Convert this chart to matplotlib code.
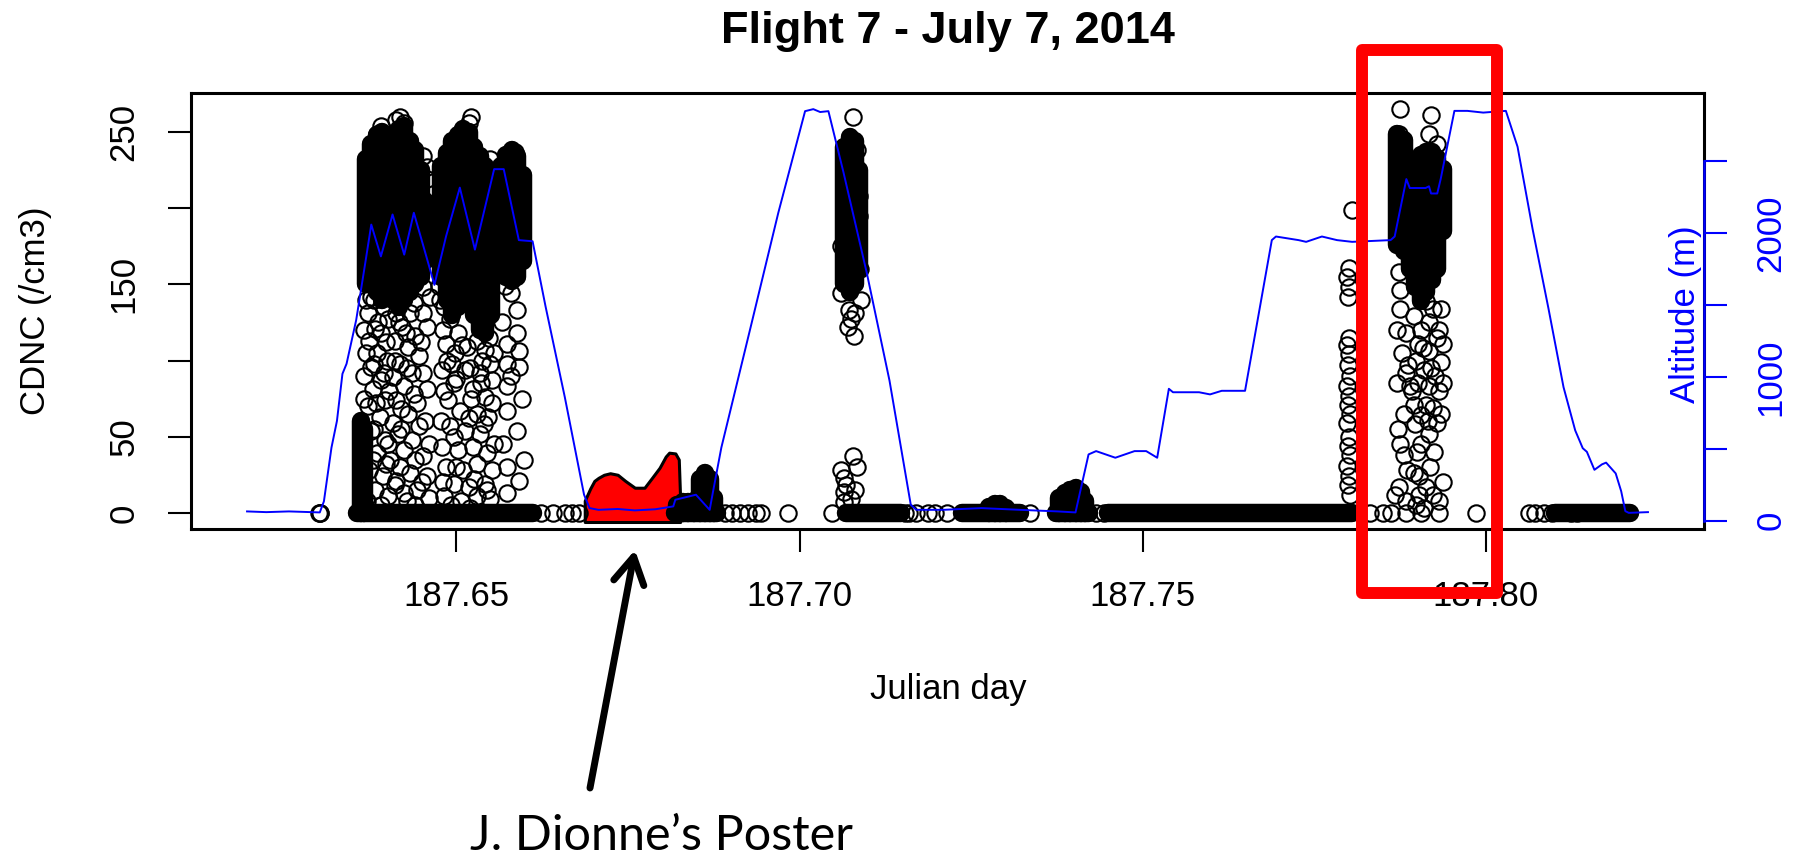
import numpy as np
import matplotlib.pyplot as plt
from matplotlib.patches import Rectangle, FancyArrowPatch

plt.rcParams['font.family'] = ['Liberation Sans', 'DejaVu Sans']

# flight track: Julian day vs altitude (m)
alt_day = [187.6195, 187.6223, 187.6256, 187.6301, 187.6307, 187.6318, 187.6326, 187.6334,
           187.6340, 187.6354, 187.6368, 187.6376, 187.6390, 187.6407, 187.6424, 187.6438,
           187.6452, 187.6468, 187.6485, 187.6505, 187.6527, 187.6541, 187.6555, 187.6569,
           187.6591, 187.6611, 187.6630, 187.6658, 187.6686, 187.6694, 187.6707, 187.6735,
           187.6760, 187.6790, 187.6816, 187.6819, 187.6849, 187.6869, 187.6874, 187.6886,
           187.6930, 187.6969, 187.7008, 187.7020, 187.7030, 187.7042, 187.7064, 187.7098,
           187.7131, 187.7162, 187.7170, 187.7209, 187.7265, 187.7321, 187.7376, 187.7402,
           187.7421, 187.7432, 187.7460, 187.7488, 187.7505, 187.7521, 187.7538, 187.7544,
           187.7582, 187.7598, 187.7615, 187.7649, 187.7688, 187.7694, 187.7727, 187.7738,
           187.7761, 187.7783, 187.7805, 187.7861, 187.7867, 187.7884, 187.7889, 187.7912,
           187.7917, 187.7920, 187.7929, 187.7934, 187.7954, 187.7973, 187.7996, 187.8029,
           187.8046, 187.8068, 187.8091, 187.8113, 187.8130, 187.8141, 187.8147, 187.8158,
           187.8169, 187.8175, 187.8189, 187.8197, 187.8203, 187.8208, 187.8236]
alt_m = [65, 60, 65, 58, 135, 508, 694, 1021,
         1091, 1394, 1814, 2058, 1837, 2128, 1849, 2140,
         1907, 1639, 1977, 2315, 1884, 2163, 2443, 2443,
         1950, 1942, 1487, 858, 181, 88, 76, 82,
         72, 80, 100, 146, 181, 76, 205, 508,
         1371, 2140, 2846, 2860, 2840, 2846, 2420, 1720,
         974, 111, 76, 76, 88, 76, 65, 58,
         461, 484, 438, 484, 484, 438, 917, 893,
         893, 878, 903, 903, 1950, 1975, 1950, 1938,
         1975, 1950, 1938, 1950, 1975, 2374, 2312, 2312,
         2324, 2274, 2274, 2374, 2848, 2848, 2836, 2848,
         2599, 2025, 1476, 928, 628, 504, 479, 354,
         392, 404, 329, 205, 67, 55, 60]

# CDNC runs sitting at zero (start day, end day)
zero_start = [187.6355, 187.6818, 187.7068, 187.7237, 187.7374, 187.7449, 187.8100]
zero_end = [187.6612, 187.6880, 187.7148, 187.7321, 187.7421, 187.7805, 187.8210]

# densely sampled CDNC stretches: day, lowest and highest value
core_day = [187.6361, 187.6366, 187.6368, 187.6376, 187.6384, 187.6392, 187.6400, 187.6408,
            187.6416, 187.6424, 187.6432, 187.6440, 187.6448, 187.6455,
            187.6478, 187.6486, 187.6494, 187.6502, 187.6510, 187.6518, 187.6526, 187.6534,
            187.6542, 187.6550,
            187.6565, 187.6573, 187.6581, 187.6589, 187.6597,
            187.7065, 187.7073, 187.7081, 187.7087,
            187.6822, 187.6830, 187.6838, 187.6846, 187.6855, 187.6862, 187.6870, 187.6876,
            187.7276, 187.7284, 187.7292, 187.7300,
            187.7378, 187.7386, 187.7394, 187.7402, 187.7410, 187.7416,
            187.7870, 187.7880, 187.7889, 187.7897, 187.7905, 187.7913, 187.7921, 187.7929,
            187.7937]
core_lo = [0, 0, 150, 150, 145, 140, 145, 140,
           135, 140, 145, 150, 155, 165,
           155, 140, 130, 135, 140, 145, 130, 120,
           118, 130,
           160, 155, 152, 155, 165,
           150, 145, 150, 160,
           0, 0, 0, 0, 0, 0, 0, 0,
           0, 0, 0, 0,
           0, 0, 0, 0, 0, 0,
           176, 172, 160, 148, 139, 145, 153, 160,
           185]
core_hi = [60, 55, 232, 242, 248, 250, 246, 248,
           252, 254, 244, 238, 225, 205,
           228, 236, 244, 248, 252, 250, 240, 234,
           228, 215,
           228, 235, 238, 234, 222,
           240, 247, 244, 225,
           5, 7, 7, 8, 22, 26, 22, 10,
           4, 6, 6, 3,
           10, 13, 15, 16, 14, 8,
           249, 245, 225, 228, 235, 237, 237, 233,
           226]

# individual CDNC samples
pt_day = [
    187.6300, 187.6301, 187.6302,
    # first cloud pass
    187.6373, 187.6376, 187.6371, 187.6382, 187.6373, 187.6385, 187.6376, 187.6390,
    187.6379, 187.6396, 187.6371, 187.6388, 187.6407, 187.6376, 187.6396, 187.6415,
    187.6385, 187.6404, 187.6424, 187.6373, 187.6393, 187.6412, 187.6432, 187.6382,
    187.6401, 187.6424, 187.6443, 187.6457, 187.6451, 187.6435, 187.6446, 187.6429,
    187.6412, 187.6443, 187.6457, 187.6424, 187.6407, 187.6435, 187.6418, 187.6399,
    187.6446, 187.6429, 187.6410, 187.6390, 187.6440, 187.6457, 187.6421, 187.6401,
    187.6451, 187.6432, 187.6412, 187.6462, 187.6457, 187.6451, 187.6457, 187.6418,
    187.6424, 187.6390, 187.6385, 187.6412,
    187.6366, 187.6366, 187.6368, 187.6366, 187.6369, 187.6380, 187.6394, 187.6403,
    187.6420, 187.6438, 187.6452, 187.6386, 187.6398, 187.6416, 187.6426, 187.6448,
    187.6380, 187.6394, 187.6410, 187.6428, 187.6452, 187.6383, 187.6402, 187.6420,
    187.6438, 187.6455, 187.6380, 187.6400, 187.6420, 187.6440, 187.6460, 187.6378,
    187.6398, 187.6418, 187.6450, 187.6428, 187.6370, 187.6390, 187.6410, 187.6440,
    187.6460,
    # second cloud pass
    187.6479, 187.6474, 187.6482, 187.6490, 187.6502, 187.6485, 187.6479, 187.6493,
    187.6513, 187.6496, 187.6516, 187.6530, 187.6541, 187.6549, 187.6535, 187.6552,
    187.6524, 187.6541, 187.6488, 187.6505, 187.6530, 187.6546, 187.6490, 187.6513,
    187.6535, 187.6479, 187.6502, 187.6524, 187.6544, 187.6485, 187.6510, 187.6530,
    187.6552, 187.6496, 187.6518, 187.6541, 187.6482, 187.6507, 187.6530, 187.6549,
    187.6518, 187.6516, 187.6521, 187.6490, 187.6549,
    187.6476, 187.6480, 187.6486, 187.6498, 187.6508, 187.6520, 187.6538, 187.6548,
    187.6555, 187.6482, 187.6500, 187.6522, 187.6536, 187.6552, 187.6478, 187.6496,
    187.6518, 187.6540, 187.6555, 187.6480, 187.6500, 187.6526, 187.6545, 187.6492,
    187.6520,
    # third cloud pass
    187.6588, 187.6574, 187.6588, 187.6591, 187.6574, 187.6591, 187.6574, 187.6574,
    187.6588, 187.6574, 187.6591, 187.6574, 187.6585, 187.6580, 187.6571,
    187.6566, 187.6580, 187.6596, 187.6568, 187.6598,
    # zeros before and after the highlighted leg
    187.6624, 187.6641, 187.6658, 187.6669, 187.6678,
    187.6891, 187.6902, 187.6913, 187.6925, 187.6936, 187.6944, 187.6983, 187.7047,
    187.7153, 187.7159, 187.7170, 187.7187, 187.7198, 187.7215,
    187.7335, 187.7432, 187.7443,
    187.7831, 187.7850, 187.7861, 187.7884, 187.7906, 187.7931, 187.7985,
    187.8063, 187.8071, 187.8085, 187.8096, 187.8124, 187.8133,
    # descent through cloud near 187.708
    187.7061, 187.7064, 187.7061, 187.7072, 187.7081, 187.7075, 187.7070, 187.7080,
    187.7086, 187.7086, 187.7084, 187.7078, 187.7078, 187.7084, 187.7061, 187.7064,
    187.7067, 187.7064, 187.7081, 187.7075, 187.7064, 187.7068, 187.7088, 187.7090,
    # column near 187.780
    187.7805, 187.7800, 187.7797, 187.7801, 187.7799, 187.7801, 187.7798, 187.7801,
    187.7799, 187.7802, 187.7798, 187.7801, 187.7799, 187.7802, 187.7798, 187.7801,
    187.7799, 187.7802, 187.7798, 187.7801, 187.7799, 187.7802,
    # last cloud pass
    187.7875, 187.7920, 187.7917, 187.7929, 187.7873, 187.7878, 187.7873, 187.7875,
    187.7875, 187.7884, 187.7887, 187.7884, 187.7889, 187.7892, 187.7895, 187.7875,
    187.7881, 187.7873, 187.7867, 187.7884, 187.7912, 187.7923, 187.7917, 187.7906,
    187.7929, 187.7901, 187.7917, 187.7934, 187.7909, 187.7926, 187.7901, 187.7917,
    187.7931, 187.7912, 187.7923, 187.7906, 187.7929, 187.7917, 187.7906, 187.7895,
    187.7903, 187.7912, 187.7923, 187.7931, 187.7903, 187.7934, 187.7895, 187.7937,
    187.7870, 187.7878, 187.7870, 187.7880, 187.7872, 187.7885, 187.7898, 187.7908,
    187.7920, 187.7932, 187.7938, 187.7897, 187.7915, 187.7935, 187.7925, 187.7900,
    187.7918, 187.7938, 187.7898, 187.7910,
]
pt_cdnc = [
    0, 0, 0,
    153, 142, 131, 121, 113, 105, 96, 87,
    81, 74, 70, 63, 59, 54, 48, 52,
    39, 35, 41, 28, 24, 21, 26, 15,
    11, 13, 15, 24, 37, 48, 57, 65,
    74, 72, 81, 83, 89, 92, 98, 100,
    103, 109, 113, 118, 116, 122, 122, 127,
    131, 131, 131, 142, 227, 234, 219, 260,
    256, 254, 249, 258,
    75, 90, 105, 120, 140, 140, 135, 145,
    140, 138, 148, 125, 112, 125, 118, 112,
    98, 92, 100, 95, 92, 72, 80, 68,
    78, 60, 55, 45, 55, 35, 45, 35,
    32, 30, 20, 8, 8, 5, 18, 5,
    10,
    162, 149, 135, 127, 118, 111, 94, 98,
    94, 85, 109, 113, 107, 98, 92, 87,
    81, 76, 74, 67, 65, 63, 57, 54,
    52, 43, 41, 43, 39, 30, 28, 32,
    28, 19, 17, 19, 11, 8, 11, 9,
    256, 249, 260, 234, 232,
    140, 120, 100, 105, 110, 95, 100, 115,
    105, 80, 88, 75, 85, 72, 60, 50,
    62, 58, 45, 20, 30, 22, 15, 5,
    3,
    133, 111, 118, 106, 98, 96, 83, 67,
    54, 30, 21, 13, 237, 144, 149,
    125, 90, 75, 45, 35,
    0, 0, 0, 0, 0,
    0, 0, 0, 0, 0, 0, 0, 0,
    0, 0, 0, 0, 0, 0,
    0, 0, 0,
    0, 0, 0, 0, 0, 0, 0,
    0, 0, 0, 0, 0, 0,
    175, 162, 144, 133, 131, 127, 122, 116,
    195, 208, 238, 260, 37, 30, 28, 23,
    18, 14, 15, 9, 7, 170, 160, 140,
    199, 161, 155, 148, 142, 115, 110, 104,
    97, 90, 83, 77, 71, 65, 59, 50,
    44, 38, 31, 24, 18, 12,
    265, 261, 249, 242, 249, 240, 158, 146,
    134, 118, 97, 92, 83, 80, 71, 45,
    38, 17, 12, 8, 139, 134, 125, 120,
    115, 111, 106, 99, 94, 90, 85, 83,
    80, 71, 69, 64, 59, 52, 45, 26,
    24, 17, 12, 8, 12, 134, 129, 111,
    120, 105, 85, 65, 55, 28, 100, 108,
    95, 120, 85, 58, 60, 65, 40, 40,
    30, 20, 5, 3,
]

# highlighted leg (J. Dionne's poster)
red_day = [187.6687, 187.6695, 187.6701, 187.6707, 187.6715, 187.6724, 187.6735, 187.6746,
           187.6760, 187.6774, 187.6785, 187.6796, 187.6805, 187.6810, 187.6819, 187.6824,
           187.6826]
red_cdnc = [2, 10, 15, 17, 19, 20, 19, 15,
            10.5, 10.5, 17, 23.6, 31, 33.5, 33, 29,
            3]

W, H = 1802, 855
fig = plt.figure(figsize=(W / 100, H / 100), dpi=100)
ax = fig.add_axes([191 / W, 1 - 529 / H, (1704 - 191) / W, (529 - 93) / H])

ms, mew = 11.8, 1.5
r_cdnc = 6.0  # marker radius in CDNC units

ax.hlines(np.zeros(len(zero_start)), zero_start, zero_end, colors='black',
          lw=ms + mew, capstyle='round')
ax.vlines(core_day, core_lo, core_hi, colors='black', lw=ms + mew, capstyle='round')
ax.plot(pt_day, pt_cdnc, 'o', ls='none', ms=ms, mfc='none', mec='black', mew=mew)
red_top = np.array(red_cdnc) + r_cdnc
ax.fill_between(red_day, -r_cdnc, red_top, facecolor='red', edgecolor='black', lw=2.2)

# R-style 4% padding
d0, d1 = min(alt_day), max(alt_day)
dw = d1 - d0
ax.set_xlim(d0 - 0.04 * dw, d1 + 0.04 * dw)
c1 = max(max(pt_cdnc), max(core_hi))
ax.set_ylim(-0.04 * c1, 1.04 * c1)

ax.set_xticks([187.65, 187.70, 187.75, 187.80])
ax.set_xticklabels(['187.65', '187.70', '187.75', '187.80'])
ax.set_yticks([0, 50, 100, 150, 200, 250])
ax.set_yticklabels(['0', '50', '', '150', '', '250'], rotation=90, va='center')
ax.tick_params(direction='out', length=16.5, width=1.5, labelsize=25, pad=20)
for s in ax.spines.values():
    s.set_linewidth(2.2)

ax2 = ax.twinx()
ax2.plot(alt_day, alt_m, color='blue', lw=1.4)
a0, a1 = min(alt_m), max(alt_m)
aw = a1 - a0
ax2.set_ylim(a0 - 0.04 * aw, a1 + 0.04 * aw)
ax2.set_yticks([0, 500, 1000, 1500, 2000, 2500])
ax2.set_yticklabels(['0', '', '1000', '', '2000', ''], rotation=90, va='center')
ax2.tick_params(axis='y', direction='out', length=16.5, width=1.5, labelsize=25,
                pad=20, colors='blue')
for k in ['top', 'left', 'bottom']:
    ax2.spines[k].set_visible(False)
ax2.spines['right'].set_bounds(0, 2500)
ax2.spines['right'].set_color('blue')
ax2.spines['right'].set_linewidth(1.8)

fig.text(947.5 / W, 1 - 43 / H, 'Flight 7 - July 7, 2014', ha='center', va='baseline',
         fontsize=32.5, fontweight='bold')
fig.text(36 / W, 1 - 311 / H, 'CDNC (/cm3)', rotation=90, ha='center', va='center',
         fontsize=25)
fig.text(948 / W, 1 - 690 / H, 'Julian day', ha='center', va='center', fontsize=25)
fig.text(1685 / W, 1 - 314 / H, 'Altitude (m)', rotation=90, ha='center', va='center',
         fontsize=25, color='blue')

# highlight box and poster pointer
fig.add_artist(Rectangle((1362 / W, 1 - 593 / H), (1497 - 1362) / W, (593 - 50) / H,
                         transform=fig.transFigure, fill=False, ec='red', lw=8.6,
                         joinstyle='round'))
fig.add_artist(FancyArrowPatch((590 / W, 1 - 788 / H), (635 / W, 1 - 550 / H),
                               transform=fig.transFigure,
                               arrowstyle='->,head_length=0.95,head_width=0.55',
                               mutation_scale=20, lw=5, color='black',
                               shrinkA=0, shrinkB=0, capstyle='round'))
fig.text(661 / W, 1 - 850 / H, 'J. Dionne\u2019s Poster', ha='center', va='baseline',
         fontsize=35, family=['Lato', 'DejaVu Sans'])

fig.savefig('out.png', dpi=100)
